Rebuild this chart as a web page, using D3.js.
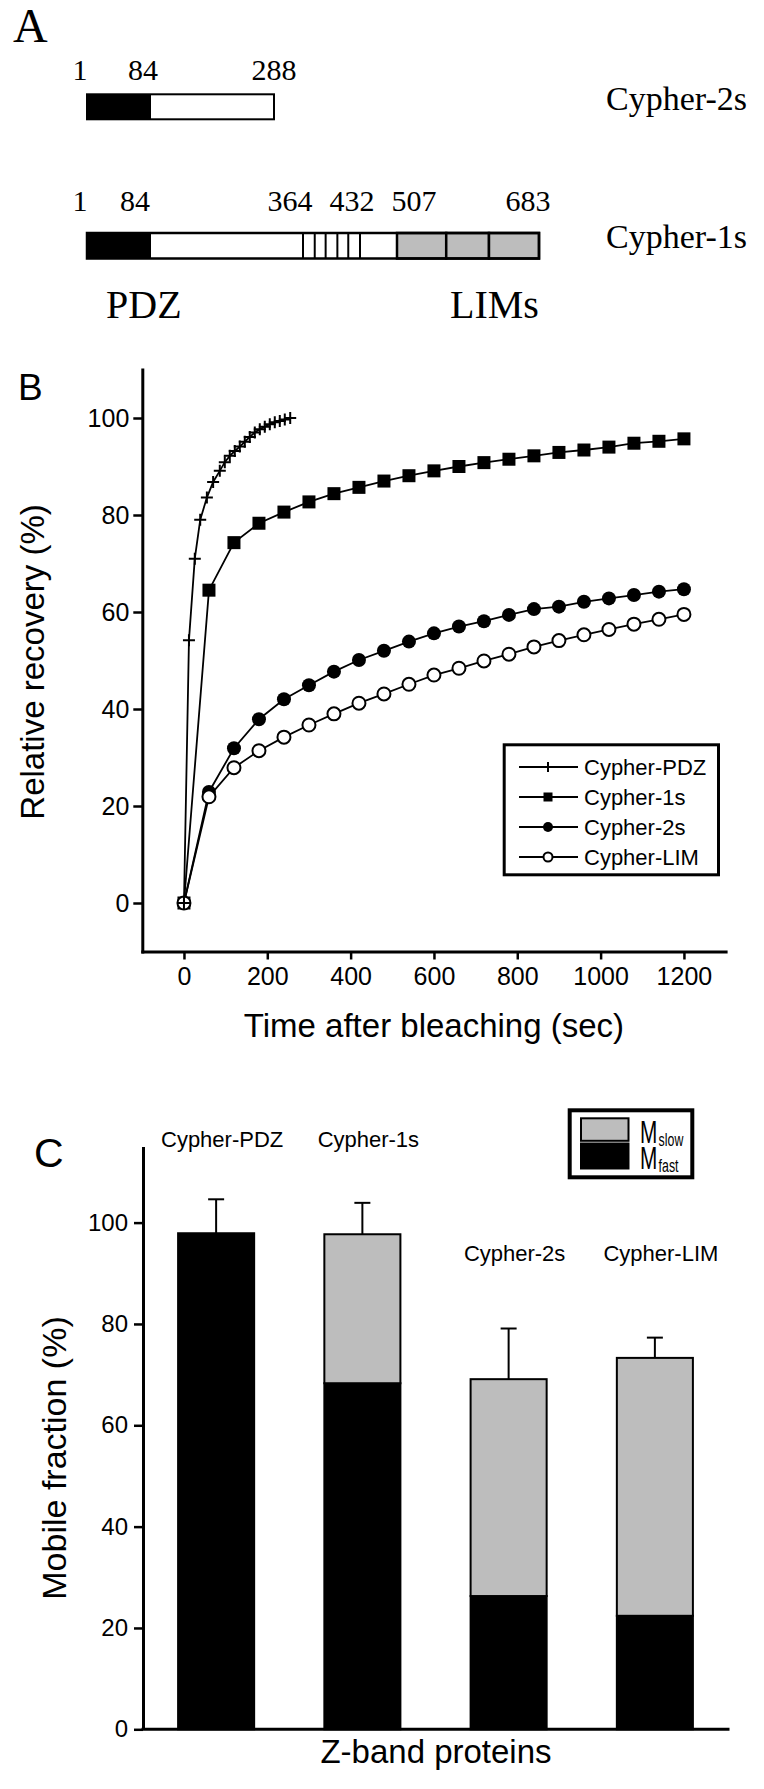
<!DOCTYPE html>
<html>
<head>
<meta charset="utf-8">
<script src="https://cdn.jsdelivr.net/npm/d3@7"></script>
<style>
  body { margin: 0; background: #fff; }
  svg { display: block; }
</style>
</head>
<body>
<script>
// ---- Panel A: domain layout (residue numbers) ----
const cypher2sBounds = [1, 84, 288];
const cypher1sBounds = [1, 84, 364, 432, 507, 683];
const repeatBounds = [364, 378, 391, 405, 418, 432];
const limBounds = [507, 568, 621, 683];

// ---- Panel B: FRAP recovery (%) vs time (sec) ----
const timePDZ = [0, 12, 26, 39, 55, 70, 86, 98, 110, 122, 134, 146, 158, 170, 182, 194, 206, 218, 230, 242, 255];
const recPDZ  = [0, 54.2, 71, 79, 83.6, 86.8, 89.1, 90.9, 92.2, 93.2, 94.1, 95.1, 96.1, 97.0, 97.7, 98.2, 98.7, 99.1, 99.4, 99.7, 100];
const timeAll = [0, 60, 120, 180, 240, 300, 360, 420, 480, 540, 600, 660, 720, 780, 840, 900, 960, 1020, 1080, 1140, 1200];
const rec1s   = [0, 64.5, 74.3, 78.3, 80.6, 82.7, 84.4, 85.7, 87.0, 88.1, 89.1, 90.0, 90.8, 91.5, 92.2, 92.9, 93.4, 94.0, 94.8, 95.2, 95.7];
const rec2s   = [0, 22.9, 31.9, 37.9, 42.0, 44.9, 47.7, 50.1, 52.0, 53.9, 55.6, 57.0, 58.1, 59.4, 60.6, 61.1, 62.1, 62.8, 63.5, 64.2, 64.7];
const recLIM  = [0, 21.9, 27.9, 31.4, 34.2, 36.7, 39.0, 41.2, 43.1, 45.1, 47.0, 48.4, 49.9, 51.3, 52.8, 54.1, 55.3, 56.4, 57.5, 58.5, 59.5];
const xTicksB = [0, 200, 400, 600, 800, 1000, 1200];
const yTicksB = [0, 20, 40, 60, 80, 100];

// ---- Panel C: mobile fractions (%) ----
const proteins = ["Cypher-PDZ", "Cypher-1s", "Cypher-2s", "Cypher-LIM"];
const mFast = [97.9, 68.3, 26.3, 22.4];
const mSlow = [0, 29.4, 42.8, 50.9];
const mErr  = [6.7, 6.2, 10.0, 4.0];
const yTicksC = [0, 20, 40, 60, 80, 100];

const SERIF = "'Liberation Serif', 'Times New Roman', serif";
const SANS = "'Liberation Sans', Arial, sans-serif";
const GRAY = "#bdbdbd";

const svg = d3.select("body").append("svg")
    .attr("width", 764)
    .attr("height", 1789)
    .attr("viewBox", [0, 0, 764, 1789]);

// =================== Panel A ===================
const gA = svg.append("g").attr("font-family", SERIF).attr("fill", "#000");

// schematic is not to scale: piecewise mapping of residue -> x
const res = d3.scaleLinear()
    .domain([1, 84, 288, 364, 432, 507, 683])
    .range([87, 151, 274, 303, 360, 397, 539]);

gA.append("text").attr("x", 13).attr("y", 42).attr("font-size", 48).text("A");

function drawProtein(bounds, y, h, sw) {
    const g = gA.append("g");
    // PDZ block
    g.append("rect")
        .attr("x", res(bounds[0])).attr("y", y)
        .attr("width", res(bounds[1]) - res(bounds[0])).attr("height", h)
        .attr("fill", "#000");
    // outline
    g.append("rect")
        .attr("x", res(bounds[0])).attr("y", y)
        .attr("width", res(bounds[bounds.length - 1]) - res(bounds[0])).attr("height", h)
        .attr("fill", "none").attr("stroke", "#000").attr("stroke-width", sw);
    return g;
}

// Cypher-2s
drawProtein(cypher2sBounds, 94.3, 25, 2);

// Cypher-1s
const g1s = drawProtein(cypher1sBounds, 233, 25.5, 2.5);
g1s.selectAll("rect.lim")
    .data(d3.pairs(limBounds))
    .join("rect")
    .attr("class", "lim")
    .attr("x", d => res(d[0])).attr("y", 233)
    .attr("width", d => res(d[1]) - res(d[0])).attr("height", 25.5)
    .attr("fill", GRAY).attr("stroke", "#000").attr("stroke-width", 2.5);
g1s.selectAll("line.rep")
    .data(repeatBounds)
    .join("line")
    .attr("class", "rep")
    .attr("x1", d => res(d)).attr("x2", d => res(d))
    .attr("y1", 233).attr("y2", 258.5)
    .attr("stroke", "#000").attr("stroke-width", 2);
g1s.select("rect:nth-child(2)").raise();

// residue labels (small nudges so they sit like the original)
const nudge = {1: -7, 84: -10, 288: 0, 364: -13, 432: -8, 507: 17, 683: -11};
function residueLabels(vals, y, extra) {
    gA.append("g").selectAll("text")
        .data(vals)
        .join("text")
        .attr("x", d => res(d) + nudge[d] + (extra[d] || 0))
        .attr("y", y)
        .attr("text-anchor", "middle")
        .attr("font-size", 30)
        .text(d => d);
}
residueLabels(cypher2sBounds, 80, {84: 2});
residueLabels(cypher1sBounds, 211, {84: -6});

gA.append("text").attr("x", 606).attr("y", 110).attr("font-size", 34).text("Cypher-2s");
gA.append("text").attr("x", 606).attr("y", 248).attr("font-size", 34).text("Cypher-1s");
gA.append("text").attr("x", 106).attr("y", 318).attr("font-size", 40).text("PDZ");
gA.append("text").attr("x", 450).attr("y", 318).attr("font-size", 40).text("LIMs");

// =================== Panel B ===================
const gB = svg.append("g").attr("font-family", SANS);

const xB = d3.scaleLinear().domain([-100, 1300]).range([142.3, 725.6]);
const yB = d3.scaleLinear().domain([-10, 110]).range([951.5, 369.5]);

gB.append("text").attr("x", 18).attr("y", 400).attr("font-size", 37).text("B");

const axB = gB.append("g").attr("transform", `translate(0,${yB(-10)})`)
    .call(d3.axisBottom(xB).tickValues(xTicksB).tickFormat(d3.format("d"))
        .tickSize(8).tickSizeOuter(0).tickPadding(8));
const ayB = gB.append("g").attr("transform", `translate(${xB(-100)},0)`)
    .call(d3.axisLeft(yB).tickValues(yTicksB).tickFormat(d3.format("d"))
        .tickSize(9).tickSizeOuter(0).tickPadding(4));
[axB, ayB].forEach(a => {
    a.select(".domain").attr("stroke-width", 3).attr("stroke-linecap", "square");
    a.selectAll(".tick line").attr("stroke-width", 2.5);
    a.selectAll(".tick text").attr("font-size", 25).attr("font-family", SANS).attr("fill", "#000");
});

gB.append("text")
    .attr("x", xB(600)).attr("y", 1037)
    .attr("text-anchor", "middle").attr("font-size", 33)
    .text("Time after bleaching (sec)");
gB.append("text")
    .attr("transform", "translate(44,662) rotate(-90)")
    .attr("text-anchor", "middle").attr("font-size", 33)
    .text("Relative recovery (%)");

const series = [
    {name: "Cypher-1s", t: timeAll, v: rec1s, marker: "square"},
    {name: "Cypher-2s", t: timeAll, v: rec2s, marker: "dot"},
    {name: "Cypher-LIM", t: timeAll, v: recLIM, marker: "ring"},
    {name: "Cypher-PDZ", t: timePDZ, v: recPDZ, marker: "plus"}
];

const line = d3.line().x(d => xB(d[0])).y(d => yB(d[1]));

function marker(sel, type, s) {
    if (type === "square") {
        sel.append("rect").attr("x", -s).attr("y", -s).attr("width", 2 * s).attr("height", 2 * s).attr("fill", "#000");
    } else if (type === "dot") {
        sel.append("circle").attr("r", s).attr("fill", "#000");
    } else if (type === "ring") {
        sel.append("circle").attr("r", s - 1).attr("fill", "#fff").attr("stroke", "#000").attr("stroke-width", 2);
    } else {
        sel.append("path").attr("d", `M${-s},0H${s}M0,${-s}V${s}`).attr("stroke", "#000").attr("stroke-width", 2).attr("fill", "none");
    }
}

const markerSize = {square: 6.5, dot: 7, ring: 7.5, plus: 6};

series.forEach(s => {
    const pts = s.t.map((t, i) => [t, s.v[i]]);
    gB.append("path")
        .attr("d", line(pts))
        .attr("fill", "none").attr("stroke", "#000").attr("stroke-width", 1.8);
    gB.append("g").selectAll("g")
        .data(pts)
        .join("g")
        .attr("transform", d => `translate(${xB(d[0])},${yB(d[1])})`)
        .each(function() { marker(d3.select(this), s.marker, markerSize[s.marker]); });
});

// legend B
const legB = gB.append("g");
legB.append("rect").attr("x", 504.2).attr("y", 744.8).attr("width", 214.3).attr("height", 130)
    .attr("fill", "#fff").attr("stroke", "#000").attr("stroke-width", 3);
const legOrder = ["Cypher-PDZ", "Cypher-1s", "Cypher-2s", "Cypher-LIM"];
const legSize = {square: 4.5, dot: 5, ring: 5.5, plus: 5};
legOrder.forEach((name, i) => {
    const s = series.find(d => d.name === name);
    const cy = 767 + i * 30;
    legB.append("line").attr("x1", 519).attr("x2", 578).attr("y1", cy).attr("y2", cy)
        .attr("stroke", "#000").attr("stroke-width", 2);
    marker(legB.append("g").attr("transform", `translate(548,${cy})`), s.marker, legSize[s.marker]);
    legB.append("text").attr("x", 584).attr("y", cy + 8).attr("font-size", 22).text(name);
});

// =================== Panel C ===================
const gC = svg.append("g").attr("font-family", SANS);

const xC = d3.scaleBand().domain(proteins).range([143, 728]).paddingInner(0.48).paddingOuter(0.24);
const yC = d3.scaleLinear().domain([0, 115]).range([1729.3, 1146.6]);

gC.append("text").attr("x", 34).attr("y", 1167).attr("font-size", 41).text("C");

const ayC = gC.append("g").attr("transform", `translate(143,0)`)
    .call(d3.axisLeft(yC).tickValues(yTicksC).tickFormat(d3.format("d"))
        .tickSize(9).tickSizeOuter(0).tickPadding(6));
ayC.select(".domain").attr("stroke-width", 3);
ayC.selectAll(".tick line").attr("stroke-width", 2.5);
ayC.selectAll(".tick text").attr("font-size", 24).attr("font-family", SANS).attr("fill", "#000");

const rows = proteins.map((p, i) => ({p, fast: mFast[i], slow: mSlow[i], err: mErr[i], i}));

// fast (black) segments
gC.append("g").selectAll("rect")
    .data(rows)
    .join("rect")
    .attr("x", d => xC(d.p)).attr("width", xC.bandwidth())
    .attr("y", d => yC(d.fast)).attr("height", d => yC(0) - yC(d.fast))
    .attr("fill", "#000").attr("stroke", "#000").attr("stroke-width", 2);
// slow (gray) segments
gC.append("g").selectAll("rect")
    .data(rows.filter(d => d.slow > 0))
    .join("rect")
    .attr("x", d => xC(d.p)).attr("width", xC.bandwidth())
    .attr("y", d => yC(d.fast + d.slow)).attr("height", d => yC(d.fast) - yC(d.fast + d.slow))
    .attr("fill", GRAY).attr("stroke", "#000").attr("stroke-width", 2);
// error bars (upper only)
const eb = gC.append("g").attr("stroke", "#000").attr("stroke-width", 2);
rows.forEach(d => {
    const cx = xC(d.p) + xC.bandwidth() / 2;
    const top = d.fast + d.slow;
    eb.append("line").attr("x1", cx).attr("x2", cx).attr("y1", yC(top)).attr("y2", yC(top + d.err));
    eb.append("line").attr("x1", cx - 8).attr("x2", cx + 8).attr("y1", yC(top + d.err)).attr("y2", yC(top + d.err));
});

// x axis line
gC.append("line").attr("x1", 143).attr("x2", 728).attr("y1", yC(0)).attr("y2", yC(0))
    .attr("stroke", "#000").attr("stroke-width", 3).attr("stroke-linecap", "square");

// bar labels
gC.append("g").selectAll("text")
    .data(rows)
    .join("text")
    .attr("x", d => xC(d.p) + xC.bandwidth() / 2 + 6)
    .attr("y", d => d.i < 2 ? yC(114.9) : yC(92.5))
    .attr("text-anchor", "middle").attr("font-size", 22)
    .text(d => d.p);

gC.append("text")
    .attr("x", 436).attr("y", 1763)
    .attr("text-anchor", "middle").attr("font-size", 33)
    .text("Z-band proteins");
gC.append("text")
    .attr("transform", "translate(66,1458) rotate(-90)")
    .attr("text-anchor", "middle").attr("font-size", 34)
    .text("Mobile fraction (%)");

// legend C
const legC = gC.append("g");
legC.append("rect").attr("x", 569.7).attr("y", 1110.3).attr("width", 122.6).attr("height", 67)
    .attr("fill", "#fff").attr("stroke", "#000").attr("stroke-width", 4);
legC.append("rect").attr("x", 581).attr("y", 1118.3).attr("width", 47.5).attr("height", 22.5)
    .attr("fill", GRAY).attr("stroke", "#000").attr("stroke-width", 2);
legC.append("rect").attr("x", 580).attr("y", 1142.5).attr("width", 49.5).attr("height", 27)
    .attr("fill", "#000");
[["slow", 1143], ["fast", 1169]].forEach(([sub, y]) => {
    const t = legC.append("text").attr("transform", `translate(640,${y}) scale(0.65,1)`).attr("font-size", 32);
    t.append("tspan").text("M");
    t.append("tspan").attr("font-size", 19).attr("dy", 3).attr("dx", 2).text(sub);
});
</script>
</body>
</html>
